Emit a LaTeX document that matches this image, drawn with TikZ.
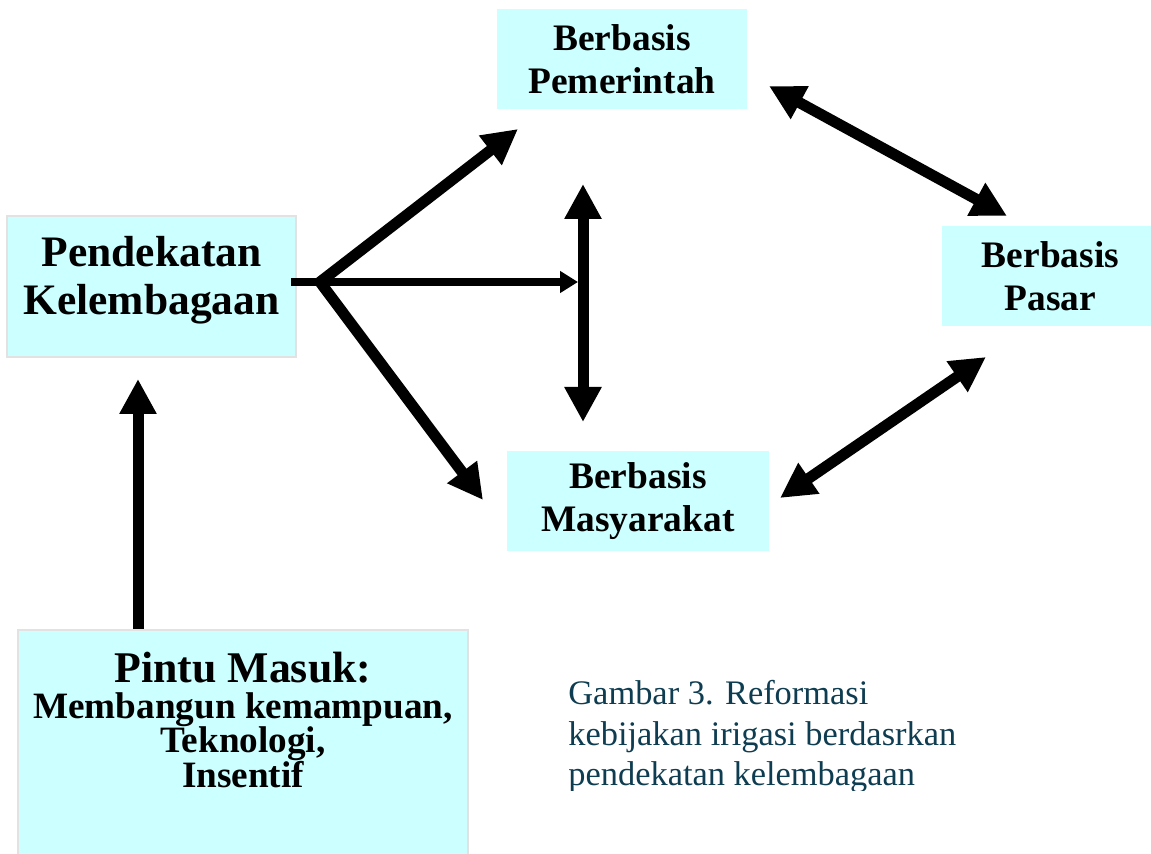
\documentclass[tikz,border=0pt]{standalone}
\usepackage{fontspec}
\setmainfont{Liberation Serif}
\usetikzlibrary{arrows.meta,calc}
\definecolor{Kotak}{HTML}{CCFFFF}
\definecolor{Garis}{HTML}{E2E2E2}
\definecolor{Teks}{HTML}{0E3C50}
\newcommand{\Basis}[4]{%
  \node[basis,minimum width=#3] (#1) at (#2) {Berbasis\\#4};%
}
\newcommand{\Rapat}{\lineskiplimit=-100pt\lineskip=0pt}

\begin{document}
\begin{tikzpicture}[x=0.5pt,y=-0.5pt,
  kotak/.style={fill=Kotak,inner sep=0pt,align=center},
  basis/.style={kotak,minimum height=50pt,font=\bfseries\fontsize{18.7}{21.5}\selectfont\Rapat},
  tebal/.style={line width=5.5pt,-{Triangle[length=17.5pt,width=17.5pt]}},
  tipis/.style={line width=4pt,-{Triangle[length=9pt,width=10.5pt]}}]
\useasboundingbox (0,0) rectangle (1151,854);
% kotak-kotak
\node[kotak,draw=Garis,line width=1pt,minimum width=144.5pt,minimum height=70.5pt,
  font=\bfseries\fontsize{21.75}{24}\selectfont\Rapat] (pend) at (151.5,286.5)
  {Pendekatan\\Kelembagaan\rule[-11pt]{0pt}{0pt}};
\Basis{pem}{622,59.5}{125pt}{Pemerintah}
\Basis{pasar}{1050.5,276}{108.5pt}{Pasar}
\Basis{masy}{638,501.5}{131pt}{Masyarakat}
\node[kotak,draw=Garis,line width=1pt,minimum width=225pt,minimum height=130pt,anchor=north] (pintu) at (243,629) {};
\node[anchor=base,align=center,inner sep=0pt,font=\bfseries\fontsize{18.6}{17.2}\selectfont\Rapat] (pintuTeks) at (243,787)
  {{\fontsize{21.9}{24}\selectfont Pintu Masuk:}\\[0.5pt]Membangun kemampuan,\\Teknologi,\\Insentif};
% titik ujung panah
\coordinate (cabang) at (320,282);
\coordinate (keAtas) at (518,129);
\coordinate (keBawah) at (483,500);
\coordinate (tengahH) at (578,282);
\coordinate (tengahA) at (583,184);
\coordinate (tengahB) at (583,422);
\coordinate (pintuUjung) at (138,379);
\coordinate (kananA1) at (769,86);
\coordinate (kananA2) at (1007,216);
\coordinate (kananB1) at (986,357);
\coordinate (kananB2) at (780,498);
% panah
\draw[tebal] (pintu.north -| pintuUjung) -- (pintuUjung);
\draw[tipis] ([xshift=-3pt]pend.east |- cabang) -- (tengahH);
\draw[tebal,{Triangle[length=17.5pt,width=17.5pt]}-{Triangle[length=17.5pt,width=17.5pt]},line join=miter] (keAtas) -- (cabang) -- (keBawah);
\draw[tebal,{Triangle[length=17.5pt,width=17.5pt]}-{Triangle[length=17.5pt,width=17.5pt]}] (tengahA) -- (tengahB);
\draw[tebal,{Triangle[length=17.5pt,width=17.5pt]}-{Triangle[length=17.5pt,width=17.5pt]}] (kananA1) -- (kananA2);
\draw[tebal,{Triangle[length=17.5pt,width=17.5pt]}-{Triangle[length=17.5pt,width=17.5pt]}] (kananB1) -- (kananB2);
% keterangan
\begin{scope}
\clip (540,640) rectangle (1000,790);
\node[anchor=base west,align=left,inner sep=0pt,text=Teks,font=\fontsize{17.2}{20}\selectfont\Rapat] (judul) at (568,785)
  {Gambar 3. Reformasi\\kebijakan irigasi berdasrkan\\pendekatan kelembagaan};
\end{scope}
\end{tikzpicture}
\end{document}
